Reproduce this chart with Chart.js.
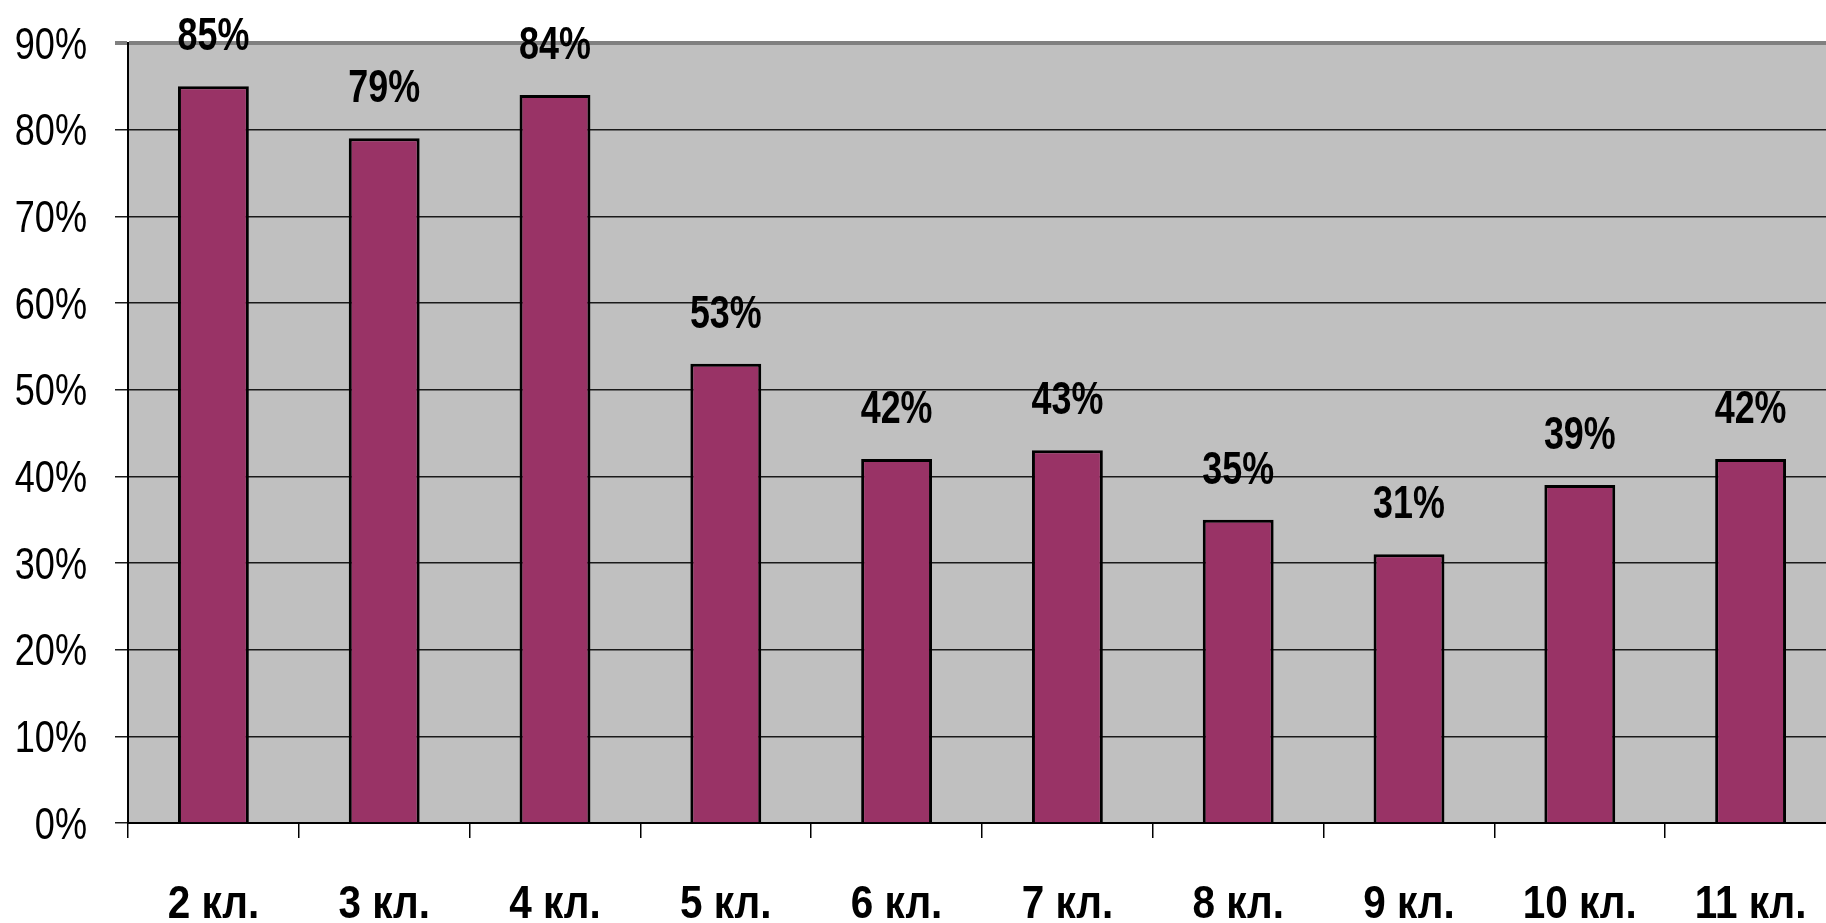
<!DOCTYPE html>
<html>
<head>
<meta charset="utf-8">
<script src="https://cdn.jsdelivr.net/npm/chart.js@4/dist/chart.umd.min.js"></script>
<style>
  html, body { margin: 0; padding: 0; background: #fff; overflow: hidden; }
  #wrap { position: absolute; left: 0; top: 0; width: 1836px; height: 923px; }
</style>
</head>
<body>
<div id="wrap"><canvas id="c" width="1836" height="923"></canvas></div>
<script>
const categories = ['2 кл.', '3 кл.', '4 кл.', '5 кл.', '6 кл.', '7 кл.', '8 кл.', '9 кл.', '10 кл.', '11 кл.'];
const values = [85, 79, 84, 53, 42, 43, 35, 31, 39, 42];
const yMax = 90;
const yStep = 10;

const FONT = "'Liberation Sans', Arial, sans-serif";

// draw condensed text (horizontal squeeze) to mimic a narrow font
function narrowText(ctx, text, x, y, font, squeeze, align) {
  ctx.save();
  ctx.font = font;
  ctx.textBaseline = 'alphabetic';
  ctx.textAlign = align;
  ctx.translate(x, y);
  ctx.scale(squeeze, 1);
  ctx.fillText(text, 0, 0);
  ctx.restore();
}

const plotBg = {
  id: 'plotBg',
  beforeDraw(chart) {
    const { ctx, chartArea: a } = chart;
    ctx.save();
    ctx.fillStyle = '#c0c0c0';
    ctx.fillRect(a.left, a.top, a.right - a.left, a.bottom - a.top);
    ctx.restore();
  }
};

const textLayer = {
  id: 'textLayer',
  afterDraw(chart) {
    const { ctx } = chart;
    ctx.save();
    ctx.fillStyle = '#000';
    // value labels
    const meta = chart.getDatasetMeta(0);
    meta.data.forEach((bar, i) => {
      narrowText(ctx, values[i] + '%', bar.x, bar.y - 36, "bold 46px " + FONT, 0.78, 'center');
    });
    // y tick labels
    const ys = chart.scales.y;
    ys.ticks.forEach((t, i) => {
      const py = ys.getPixelForTick(i);
      narrowText(ctx, t.value + '%', 87, py + 15.5, "44px " + FONT, 0.82, 'right');
    });
    // x tick labels
    const xs = chart.scales.x;
    xs.ticks.forEach((t, i) => {
      const px = xs.getPixelForTick(i);
      narrowText(ctx, categories[i], px, 918, "bold 46px " + FONT, 0.88, 'center');
    });
    ctx.restore();
  }
};

new Chart(document.getElementById('c'), {
  type: 'bar',
  data: {
    labels: categories,
    datasets: [{
      data: values,
      backgroundColor: '#993366',
      borderColor: '#000',
      borderWidth: 3,
      borderSkipped: 'start',
      barPercentage: 0.415,
      categoryPercentage: 1.0
    }]
  },
  options: {
    responsive: false,
    animation: false,
    devicePixelRatio: 1,
    layout: { padding: { top: 43, right: 0, left: 0, bottom: 0 } },
    plugins: { legend: { display: false }, tooltip: { enabled: false } },
    scales: {
      x: {
        grid: { drawOnChartArea: false, drawTicks: true, tickLength: 15, color: '#000', lineWidth: 1.5 },
        border: { color: '#000', width: 2 },
        ticks: { display: false, autoSkip: false, maxRotation: 0 },
        afterFit(scale) { scale.height = 100; }
      },
      y: {
        min: 0,
        max: yMax,
        ticks: { display: false, stepSize: yStep },
        grid: {
          tickLength: 13,
          color: ctx => (ctx.tick && ctx.tick.value === yMax) ? '#808080' : '#1a1a1a',
          lineWidth: ctx => (ctx.tick && ctx.tick.value === yMax) ? 4 : 1.5
        },
        border: { color: '#000', width: 2 },
        afterFit(scale) { scale.width = 128; }
      }
    }
  },
  plugins: [plotBg, textLayer]
});
</script>
</body>
</html>
